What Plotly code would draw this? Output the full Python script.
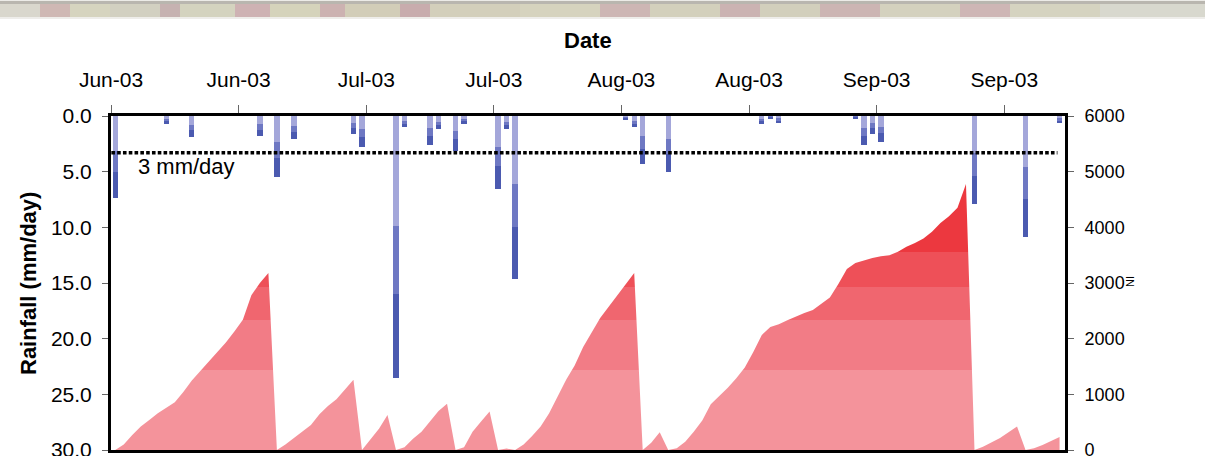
import datetime as dt
import plotly.graph_objects as go

# ---------------- data ----------------
start_date = dt.datetime(2003, 6, 5, 12, 0)
n_days = 112

# daily rainfall (mm/day): day offset from start and amount
rain_day = [0, 6, 9, 17, 19, 21, 28, 29, 33, 34, 37, 38, 40, 41, 45, 46, 47,
            60, 61, 62, 65, 76, 77, 78, 87, 88, 89, 90, 101, 107, 111]
rain_mm = [7.4, 0.7, 1.9, 1.8, 5.5, 2.1, 1.6, 2.8, 23.5, 1.0, 2.6, 1.2, 3.1, 0.7,
           6.6, 1.2, 14.6, 0.3, 1.0, 4.35, 5.0, 0.7, 0.2, 0.6, 0.2, 2.6, 1.6, 2.3,
           7.9, 10.9, 0.6]

# NI series, one value per day
ni_values = (
    [0, 100, 270, 420, 540, 660, 760, 860, 1040, 1250, 1420, 1590, 1760, 1930,
     2130, 2340, 2780, 3000, 3180]                                   # d0-18
    + [0, 100, 215, 330, 450, 640, 790, 910, 1085, 1260]             # d19-28
    + [0, 180, 380, 630]                                             # d29-32
    + [0, 50, 200, 330, 510, 700, 830]                               # d33-39
    + [0, 50, 330, 510, 690]                                         # d40-44
    + [0, 25]                                                        # d45-46
    + [0, 100, 250, 420, 660, 960, 1260, 1520, 1850, 2110, 2370, 2575,
       2780, 2980, 3180]                                             # d47-61
    + [0, 130, 320]                                                  # d62-64
    + [0, 30, 150, 330, 530, 820, 970, 1120, 1290, 1480, 1760, 2065, 2210,
       2260, 2330, 2400, 2460, 2515, 2630, 2740, 2980, 3250, 3360, 3410,
       3450, 3480, 3500, 3560, 3650, 3720, 3800, 3920, 4080, 4200, 4350,
       4780]                                                         # d65-100
    + [0, 60, 140, 215, 320, 420]                                    # d101-106
    + [0, 30, 90, 160, 235]                                          # d107-111
)
assert len(ni_values) == n_days

threshold_mm = 3.3
threshold_label = "3 mm/day"
left_ticks = [0, 5, 10, 15, 20, 25, 30]
right_ticks = [0, 1000, 2000, 3000, 4000, 5000, 6000]

# ---------------- derived ----------------
dates = [start_date + dt.timedelta(days=i) for i in range(n_days)]
rain_dates = [start_date + dt.timedelta(days=d) for d in rain_day]
DAY_MS = 86400000

FONT = "Liberation Sans, Arial, sans-serif"

fig = go.Figure()

# rainfall bars with banded gradient (light top -> dark bottom)
bands = [(0.0, 0.42, "#A4A7DA"), (0.42, 0.68, "#6E78C3"), (0.68, 1.0, "#4B5AB0")]
for f0, f1, col in bands:
    fig.add_trace(go.Bar(
        x=rain_dates, y=[v * (f1 - f0) for v in rain_mm],
        marker=dict(color=col, line=dict(width=0)),
        width=0.62 * DAY_MS, yaxis="y", showlegend=False, hoverinfo="skip"))

# threshold dotted line
fig.add_trace(go.Scatter(
    x=[dates[0] - dt.timedelta(hours=11), dates[-1] - dt.timedelta(hours=6)],
    y=[threshold_mm, threshold_mm], mode="lines",
    line=dict(color="black", width=3.6, dash="3.6px,2.2px"),
    yaxis="y", showlegend=False, hoverinfo="skip"))

# NI area with banded vertical gradient
vmax = 4800
edges = [0, 1437, 2335, 2935, 3560, vmax]
band_cols = ["#F4939B", "#F27C86", "#F0666F", "#EE5058", "#EC383F"]
cs = []
for i, c in enumerate(band_cols):
    cs.append([edges[i] / vmax, c])
    cs.append([edges[i + 1] / vmax, c])
fig.add_trace(go.Scatter(
    x=dates, y=ni_values, yaxis="y2", mode="lines",
    line=dict(width=0, color="#F4939B"), fill="tozeroy",
    fillcolor="#F4939B",
    fillgradient=dict(type="vertical", colorscale=cs, start=0, stop=vmax),
    showlegend=False, hoverinfo="skip"))

# ---------------- layout ----------------
tickfont = dict(family=FONT, size=21, color="black")
fig.update_layout(
    width=1205, height=456, autosize=False,
    margin=dict(l=111, r=140, t=116, b=6, pad=0, autoexpand=False),
    paper_bgcolor="white", plot_bgcolor="white",
    barmode="stack", bargap=0,
    showlegend=False,
    font=dict(family=FONT, color="black"),
    xaxis=dict(
        type="date", side="top", automargin=False,
        range=[dt.datetime(2003, 6, 5, 0, 0), dt.datetime(2003, 9, 25, 3, 20)],
        tick0=dt.datetime(2003, 6, 5, 0, 0), dtick=15 * DAY_MS,
        tickformat="%b-%y", tickfont=tickfont,
        ticks="outside", ticklen=8, tickcolor="#666", tickwidth=1,
        ticklabelstandoff=10, ticklabeloverflow="allow",
        showline=True, linecolor="black", linewidth=3, mirror=True,
        showgrid=False, zeroline=False),
    yaxis=dict(
        range=[30, 0], tickvals=left_ticks, tickformat=".1f", automargin=False,
        tickfont=tickfont, ticks="outside", ticklen=6, tickcolor="#666",
        ticklabelstandoff=6, ticklabeloverflow="allow",
        showline=True, linecolor="black", linewidth=3,
        showgrid=False, zeroline=False),
    yaxis2=dict(
        range=[0, 6000], tickvals=right_ticks, overlaying="y", side="right",
        automargin=False,
        tickfont=dict(family=FONT, size=18, color="black"),
        ticks="outside", ticklen=6, tickcolor="#666",
        ticklabelstandoff=7, ticklabeloverflow="allow",
        showline=True, linecolor="black", linewidth=3,
        showgrid=False, zeroline=False),
)

annotations = [
    dict(text="<b>Date</b>", x=0.5, y=(450 - 41) / 334, xref="paper", yref="paper",
         showarrow=False, font=dict(family=FONT, size=22, color="black"),
         xanchor="center", yanchor="middle"),
    dict(text="<b>Rainfall (mm/day)</b>", x=(28 - 111) / 954, y=(450 - 284) / 334,
         xref="paper", yref="paper", showarrow=False, textangle=-90,
         font=dict(family=FONT, size=22, color="black"),
         xanchor="center", yanchor="middle"),
    dict(text=threshold_label, x=(136 - 111) / 954, y=4.5, xref="paper", yref="y",
         showarrow=False, font=dict(family=FONT, size=22, color="black"),
         xanchor="left", yanchor="middle"),
    dict(text="NI", x=(1130 - 111) / 954, y=(450 - 282) / 334, xref="paper",
         yref="paper", showarrow=False, textangle=-90,
         font=dict(family=FONT, size=11, color="black"),
         xanchor="center", yanchor="middle"),
]
fig.update_layout(annotations=annotations)

# blurred photo strip at the very top of the screenshot
strip = [(0, 40, "#D9D7CD"), (40, 70, "#CFB8B4"), (70, 110, "#D6D4BF"),
         (110, 160, "#D2D0C1"), (160, 180, "#C6B2B1"), (180, 235, "#D4D3BF"),
         (235, 270, "#CEB2B3"), (270, 320, "#D5D3BB"), (320, 345, "#CCB2B1"),
         (345, 400, "#D2CDB8"), (400, 430, "#C8ACAD"), (430, 520, "#D3CFBB"),
         (520, 600, "#D6D3BE"), (600, 650, "#CDB6B4"), (650, 720, "#D3D0BC"),
         (720, 760, "#CBB3B2"), (760, 820, "#D2CFBC"), (820, 880, "#CCB5B3"),
         (880, 960, "#D4D1BE"), (960, 1010, "#CEB6B5"), (1010, 1100, "#D5D3C0"),
         (1100, 1205, "#D8D8CE")]


def px_rect(xa, xb, ya, yb, color):
    # rectangle given in page pixels (y measured from the top of the page)
    return dict(type="rect", xref="paper", yref="paper", xsizemode="pixel",
                ysizemode="pixel", xanchor=0, yanchor=1,
                x0=xa - 111, x1=xb - 111, y0=116 - yb, y1=116 - ya,
                fillcolor=color, line=dict(width=0), layer="above")


shapes = [px_rect(0, 1205, 0, 4, "#B9B6AF"), px_rect(0, 1205, 0, 1, "#ECEBE7")]
for a, b, c in strip:
    shapes.append(px_rect(a, b, 4, 17, c))
shapes.append(px_rect(0, 1205, 17, 19, "#EEEDEA"))
fig.update_layout(shapes=shapes)

fig.write_html(
    "out.html",
    config={"displayModeBar": False},
    post_script="document.body.style.margin='0';document.body.style.overflow='hidden';")
